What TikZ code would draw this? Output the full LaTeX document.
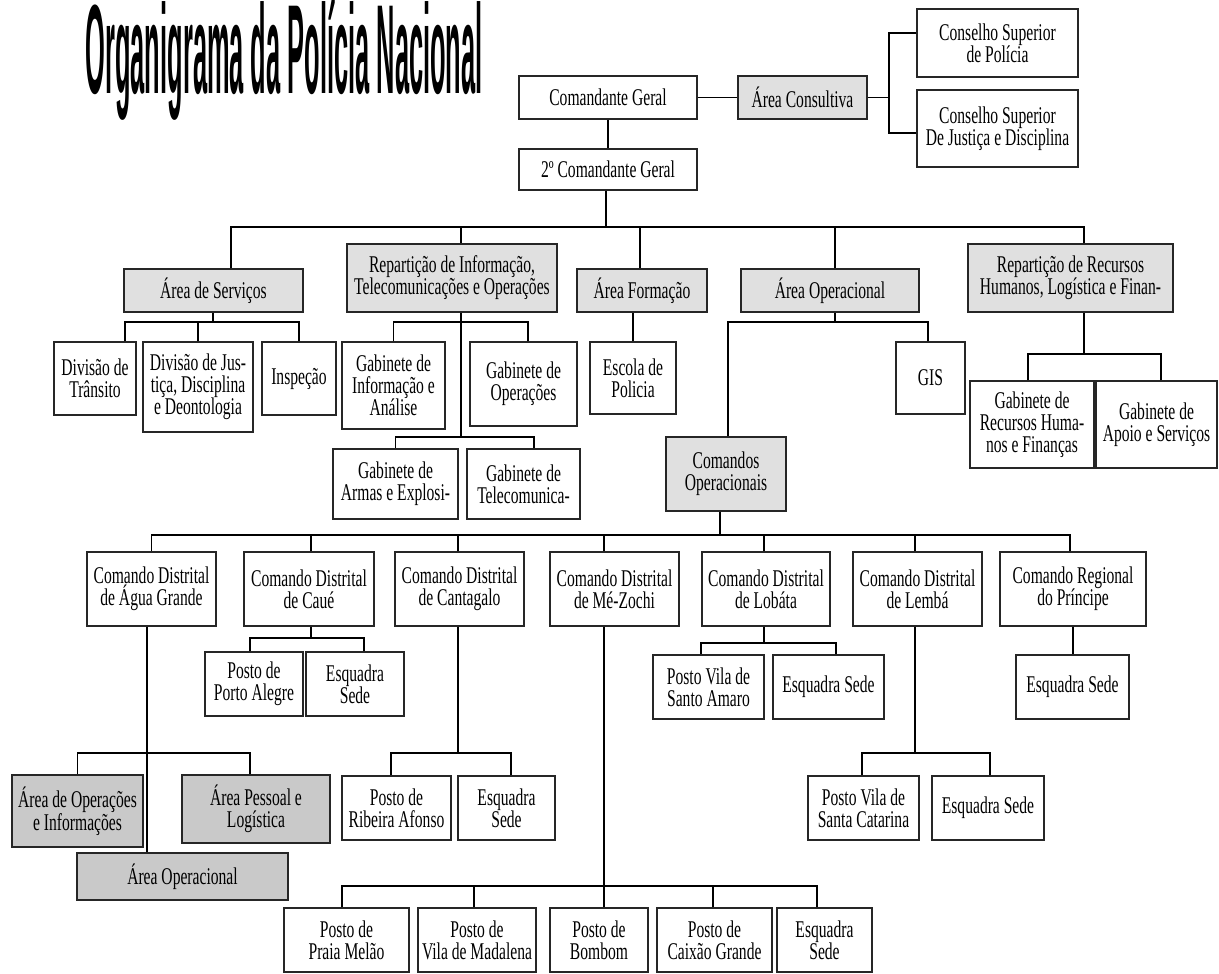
\documentclass[tikz,border=0pt]{standalone}
\usepackage{fontspec}
\usepackage{graphicx}
\setmainfont[FakeStretch=0.65]{Liberation Serif}
\newfontfamily\titlefont{Liberation Sans}

\tikzset{
  box/.style={draw=black!85, fill=white, align=center, inner sep=0pt,
    font=\fontsize{24}{22}\selectfont},
  wh/.style 2 args={minimum width=#1pt, minimum height=#2pt},
  grey/.style={box, fill=black!12},
  dgrey/.style={box, fill=black!21}
}

\begin{document}
\begin{tikzpicture}[x=1pt, y=-1pt, line width=1.3pt]
      \useasboundingbox (0,0) rectangle (1219,974);

      \node[anchor=base west, inner sep=0pt] (title) at (85,93)
        {\resizebox{397pt}{93pt}{\titlefont\bfseries Organigrama da Polícia Nacional}};

      \node[box, wh={178}{43}] (cg) at (608,97.5) {Comandante Geral};
      \node[grey, wh={129}{43}] (ac) at (802.5,97.5) {Área Consultiva};
      \node[box, wh={161}{68}] (csp) at (997.5,43) {Conselho Superior\\de Polícia};
      \node[box, wh={161}{77}] (csj) at (997.5,128.5) {Conselho Superior\\De Justiça e Disciplina};
      \node[box, wh={178}{41}] (cg2) at (608,169.5) {2º Comandante Geral};

      \node[grey, wh={179}{43}] (as) at (213.5,290.5) {Área de Serviços};
      \node[grey, wh={210}{68}] (rito) at (452,278) {Repartição de Informação,\\Telecomunicações e Operações};
      \node[grey, wh={130}{43}] (af) at (642,290.5) {Área Formação};
      \node[grey, wh={178}{43}] (ao) at (830,290.5) {Área Operacional};
      \node[grey, wh={205}{68}] (rrh) at (1070.5,278) {Repartição de Recursos\\Humanos, Logística e Finan-};

      \node[box, wh={82}{73}] (dt) at (95,378.5) {Divisão de\\Trânsito};
      \node[box, wh={110}{90}] (dj) at (198,387) {Divisão de Jus-\\tiça, Disciplina\\e Deontologia};
      \node[box, wh={74}{73}] (insp) at (299,378.5) {Inspeção};
      \node[box, wh={103}{87}] (gia) at (393.5,385.5) {Gabinete de\\Informação e\\Análise};
      \node[box, wh={107}{84}] (gop) at (523.5,384) {Gabinete de\\Operações};
      \node[box, wh={125}{70}] (gae) at (395.5,484) {Gabinete de\\Armas e Explosi-};
      \node[box, wh={113}{70}] (gtc) at (523.5,484) {Gabinete de\\Telecomunica-};
      \node[box, wh={86}{72}] (ep) at (633,378) {Escola de\\Policia};
      \node[box, wh={69}{72}] (gis) at (930.5,378) {GIS};
      \node[grey, wh={120}{74}] (co) at (726,474) {Comandos\\Operacionais};
      \node[box, wh={124}{87}] (grh) at (1032,424.5) {Gabinete de\\Recursos Huma-\\nos e Finanças};
      \node[box, wh={121}{87}] (gas) at (1156.5,424.5) {Gabinete de\\Apoio e Serviços};

      \node[box, wh={129}{74}] (cdag) at (151.5,589) {Comando Distrital\\de Água Grande};
      \node[box, wh={130}{74}] (cdc) at (309,589) {Comando Distrital\\de Caué};
      \node[box, wh={129}{74}] (cdct) at (459.5,589) {Comando Distrital\\de Cantagalo};
      \node[box, wh={129}{74}] (cdmz) at (614.5,589) {Comando Distrital\\de Mé-Zochi};
      \node[box, wh={128}{74}] (cdl) at (766,589) {Comando Distrital\\de Lobáta};
      \node[box, wh={129}{74}] (cdlb) at (917.5,589) {Comando Distrital\\de Lembá};
      \node[box, wh={146}{74}] (crp) at (1073,589) {Comando Regional\\do Príncipe};

      \node[box, wh={98}{64}] (ppa) at (254,684) {Posto de\\Porto Alegre};
      \node[box, wh={98}{64}] (esc) at (355,684) {Esquadra\\Sede};
      \node[box, wh={111}{64}] (psa) at (708.5,687) {Posto Vila de\\Santo Amaro};
      \node[box, wh={111}{64}] (esl) at (828.5,687) {Esquadra Sede};
      \node[box, wh={113}{64}] (esp) at (1072.5,687) {Esquadra Sede};

      \node[dgrey, wh={131}{72}] (aoi) at (77.5,811) {Área de Operações\\e Informações};
      \node[dgrey, wh={148}{68}] (apl) at (256,809) {Área Pessoal e\\Logística};
      \node[dgrey, wh={211}{47}] (aol) at (182.5,876.5) {Área Operacional};
      \node[box, wh={109}{64}] (prf) at (396.5,808) {Posto de\\Ribeira Afonso};
      \node[box, wh={97}{64}] (esct) at (506.5,808) {Esquadra\\Sede};
      \node[box, wh={111}{64}] (psc) at (863.5,808) {Posto Vila de\\Santa Catarina};
      \node[box, wh={112}{64}] (eslb) at (988,808) {Esquadra Sede};

      \node[box, wh={125}{64}] (ppm) at (346.5,940) {Posto de\\Praia Melão};
      \node[box, wh={118}{64}] (pvm) at (477,940) {Posto de\\Vila de Madalena};
      \node[box, wh={98}{64}] (pbb) at (599,940) {Posto de\\Bombom};
      \node[box, wh={115}{64}] (pcg) at (714.5,940) {Posto de\\Caixão Grande};
      \node[box, wh={95}{64}] (esmz) at (824.5,940) {Esquadra\\Sede};

      \coordinate (b0) at (889,97.5);
      \coordinate (b1) at (606,227);
      \coordinate (b2) at (213,322);
      \coordinate (b3) at (461,322);
      \coordinate (b4) at (461,437);
      \coordinate (b5) at (835,322);
      \coordinate (b6) at (1084,354);
      \coordinate (b7) at (720,535);
      \coordinate (b8) at (311,638);
      \coordinate (b9) at (764,643);
      \coordinate (b10) at (147,753);
      \coordinate (b11) at (458,753);
      \coordinate (b12) at (915,753);
      \coordinate (b13) at (604,886);

      \draw (cg) -- (ac);
      \draw (ac) -- (b0);
      \draw ([yshift=10pt]csp.west) -| (b0);
      \draw ([yshift=-4.5pt]csj.west) -| (b0);
      \draw (cg) -- (cg2);

      \draw (cg2.south -| b1) -- (b1);
      \draw ([xshift=17.5pt]as.north) |- (b1);
      \draw ([xshift=9pt]rito.north) |- (b1);
      \draw ([xshift=-2pt]af.north) |- (b1);
      \draw ([xshift=5pt]ao.north) |- (b1);
      \draw ([xshift=13.5pt]rrh.north) |- (b1);

      \draw (as.south -| b2) -- (b2);
      \draw ([xshift=30pt]dt.north) |- (b2);
      \draw (dj.north) |- (b2);
      \draw (insp.north) |- (b2);

      \draw (rito.south -| b4) -- (b4);
      \draw (gia.north) |- (b3);
      \draw ([xshift=4.5pt]gop.north) |- (b3);
      \draw (gae.north) |- (b4);
      \draw ([xshift=10.5pt]gtc.north) |- (b4);

      \draw (ep.north) -- (ep.north |- af.south);

      \draw (ao.south -| b5) -- (b5);
      \draw ([xshift=2pt]co.north) |- (b5);
      \draw ([xshift=-2.5pt]gis.north) |- (b5);

      \draw (rrh.south -| b6) -- (b6);
      \draw ([xshift=-4pt]grh.north) |- (b6);
      \draw ([xshift=4.5pt]gas.north) |- (b6);

      \draw (co.south -| b7) -- (b7);
      \draw (cdag.north) |- (b7);
      \draw ([xshift=2pt]cdc.north) |- (b7);
      \draw ([xshift=-1.5pt]cdct.north) |- (b7);
      \draw ([xshift=-10.5pt]cdmz.north) |- (b7);
      \draw ([xshift=-2pt]cdl.north) |- (b7);
      \draw ([xshift=-2.5pt]cdlb.north) |- (b7);
      \draw ([xshift=-3pt]crp.north) |- (b7);

      \draw (cdc.south -| b8) -- (b8);
      \draw ([xshift=-4pt]ppa.north) |- (b8);
      \draw ([xshift=9pt]esc.north) |- (b8);

      \draw (cdl.south -| b9) -- (b9);
      \draw ([xshift=-7.5pt]psa.north) |- (b9);
      \draw ([xshift=7.5pt]esl.north) |- (b9);

      \draw (crp.south) -- (crp.south |- esp.north);

      \draw (cdag.south -| b10) -- (aol.north -| b10);
      \draw (aoi.north) |- (b10);
      \draw ([xshift=-6pt]apl.north) |- (b10);

      \draw (cdct.south -| b11) -- (b11);
      \draw ([xshift=-5.5pt]prf.north) |- (b11);
      \draw ([xshift=4.5pt]esct.north) |- (b11);

      \draw (cdlb.south -| b12) -- (b12);
      \draw ([xshift=-1.5pt]psc.north) |- (b12);
      \draw ([xshift=2pt]eslb.north) |- (b12);

      \draw (cdmz.south -| b13) -- (pbb.north -| b13);
      \draw ([xshift=-4.5pt]ppm.north) |- (b13);
      \draw ([xshift=-3pt]pvm.north) |- (b13);
      \draw ([xshift=-1.5pt]pcg.north) |- (b13);
      \draw ([xshift=-7.5pt]esmz.north) |- (b13);
    \end{tikzpicture}
\end{document}
